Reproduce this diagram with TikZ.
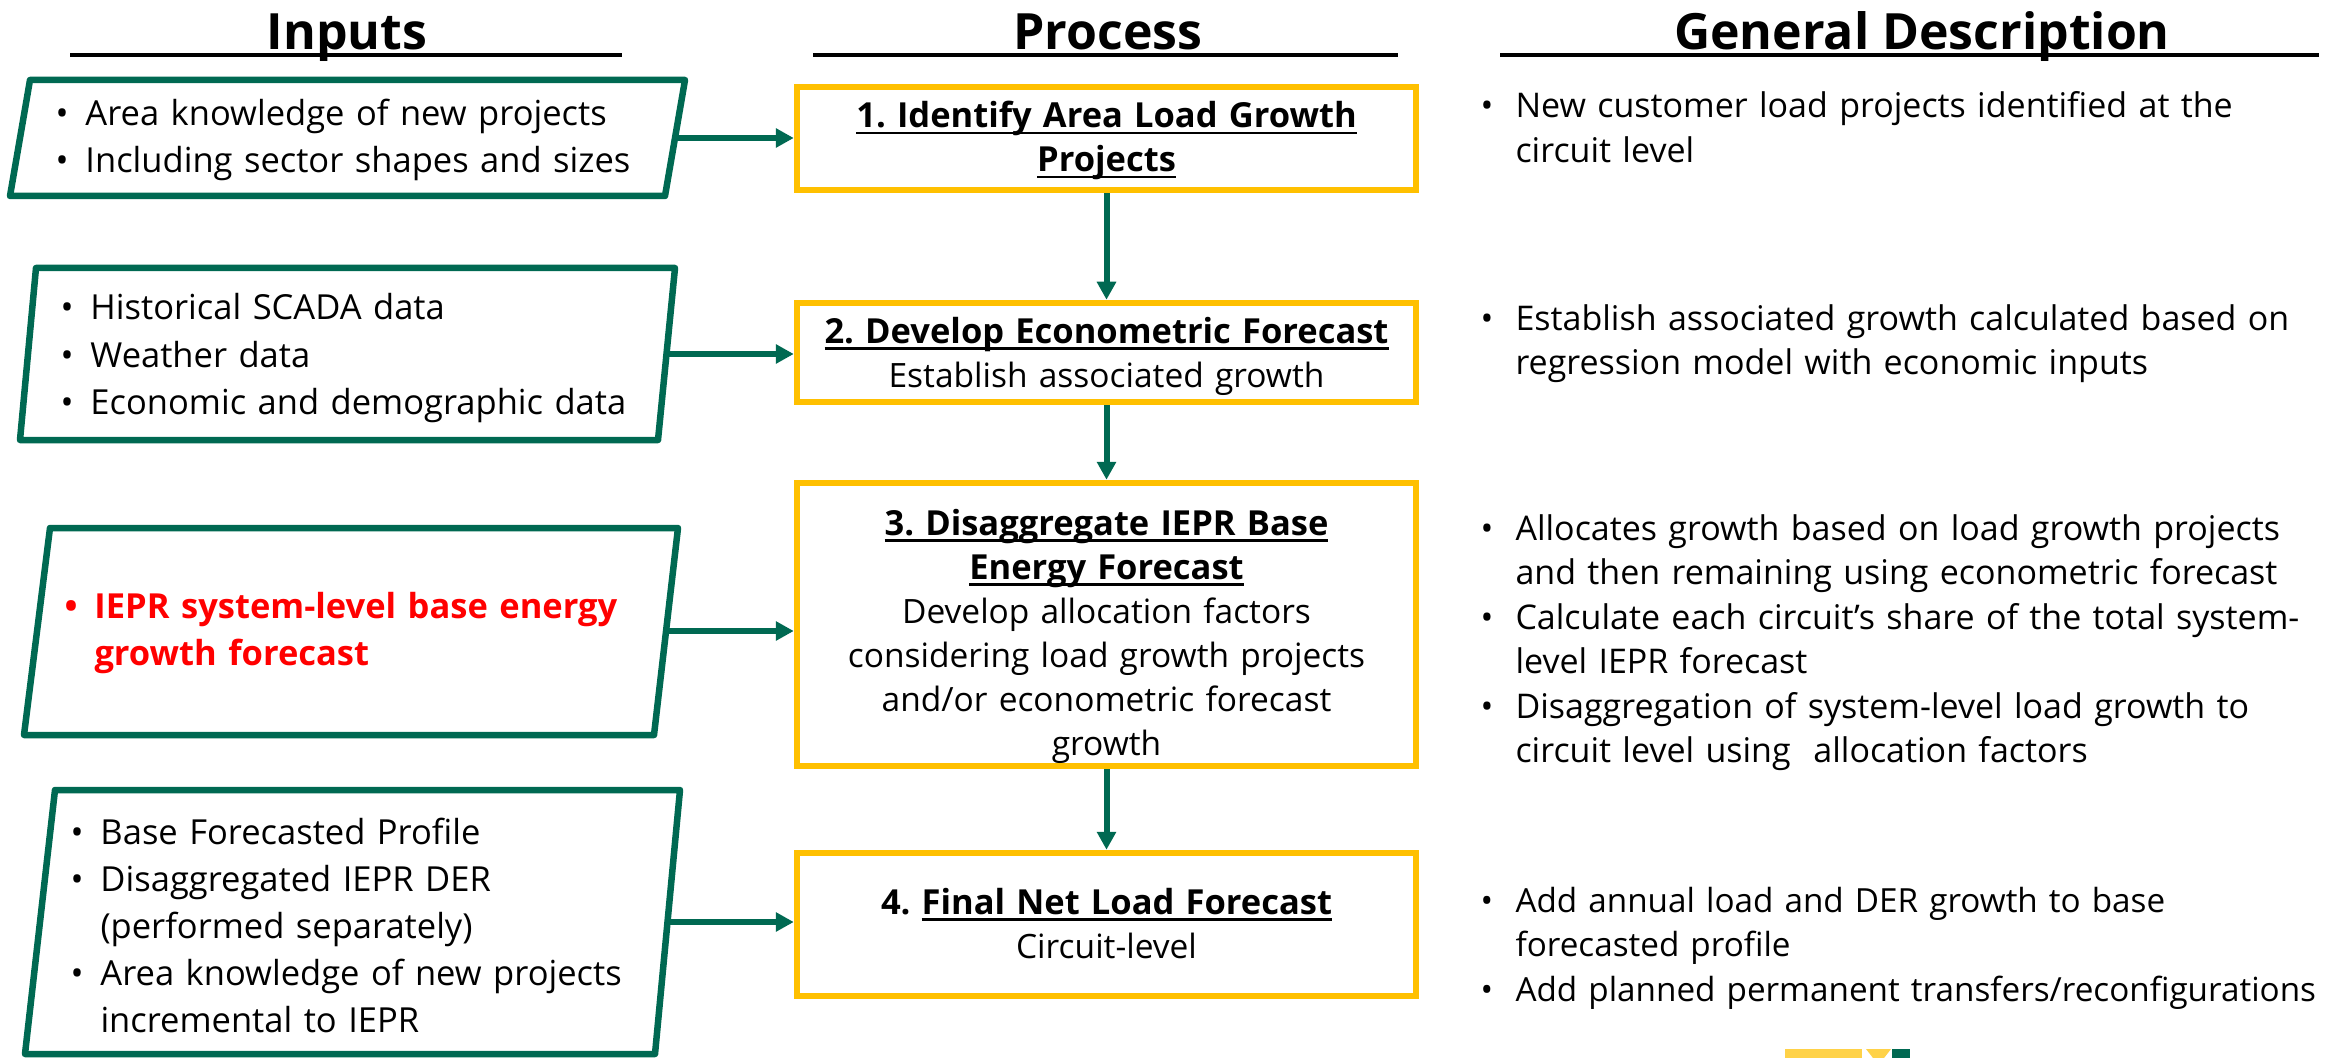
\documentclass[tikz,border=0pt]{standalone}
\usepackage{fontspec}
\setmainfont{Open Sans}
\usetikzlibrary{arrows.meta}
\definecolor{pgegreen}{RGB}{0,105,82}
\definecolor{procyellow}{RGB}{255,192,0}
\definecolor{logoyellow}{RGB}{255,210,72}
\definecolor{alertred}{RGB}{255,0,0}
\frenchspacing
% underline drawn as a rule under the boxed text
\newsavebox{\ulbox}
\newcommand{\uln}[1]{\leavevmode\sbox{\ulbox}{#1}\rlap{\rule[-2.6pt]{\wd\ulbox}{0.9pt}}\usebox{\ulbox}}
% step titles
\newcommand{\ptitle}[1]{{\fontsize{13.8}{17.6}\selectfont\bfseries #1}}
% bullet with hanging indent
\newcommand{\inbul}{\makebox[12pt][l]{•}}
\newcommand{\incont}{\hspace*{12pt}}
\newcommand{\dsbul}{\makebox[14pt][l]{•}}
\newcommand{\dscont}{\hspace*{14pt}}
\begin{document}
\begin{tikzpicture}[x=0.4pt,y=-0.4pt,
  inbox/.style={draw=pgegreen, line width=2.6pt, line join=round, fill=white},
  procbox/.style={draw=procyellow, line width=2.6pt, fill=white, minimum width=247.6pt,
    inner sep=0pt},
  proctext/.style={anchor=base, inner sep=0pt, text width=240pt, align=center,
    font=\fontsize{13.4}{17.6}\selectfont},
  flow/.style={draw=pgegreen, line width=2.4pt, -{Triangle[length=7.2pt,width=7.4pt]}},
  intext/.style={anchor=base west, inner sep=0pt, text width=250pt, align=left,
    font=\fontsize{13.8}{18.8}\selectfont},
  desctext/.style={anchor=base west, inner sep=0pt, text width=360pt, align=left,
    font=\fontsize{13.6}{17.8}\selectfont},
  header/.style={anchor=base, inner sep=0pt, font=\fontsize{20}{24}\bfseries\selectfont},
  headrule/.style={line width=1.6pt}]
\useasboundingbox (0,0) rectangle (2350,1058);
\fill[white] (0,0) rectangle (2350,1058);

% column headers
\node[header] (hin) at (347,50) {Inputs};
\node[header] (hproc) at (1108,50) {Process};
\node[header] (hdesc) at (1922,50) {General Description};
\draw[headrule] (70,55) -- (622,55);
\draw[headrule] (813,55) -- (1398,55);
\draw[headrule] (1500,55) -- (2319,55);

% input parallelograms
\draw[inbox] (30,80) -- (685,80) -- (665,196) -- (10,196) -- cycle;
\coordinate (in1) at (675,138);
\draw[inbox] (36,268) -- (675,268) -- (658,440) -- (20,440) -- cycle;
\coordinate (in2) at (666,354);
\draw[inbox] (50,528) -- (678,528) -- (654,735) -- (24,735) -- cycle;
\coordinate (in3) at (666,631);
\draw[inbox] (55,790) -- (680,790) -- (655,1054) -- (25,1054) -- cycle;
\coordinate (in4) at (667,922);

\node[intext] (in1t) at (55,126) {\inbul Area knowledge of new projects\\
  \inbul Including sector shapes and sizes};
\node[intext] (in2t) at (60,320) {\inbul Historical SCADA data\\
  \inbul Weather data\\
  \inbul Economic and demographic data};
\node[intext, text=alertred, font=\fontsize{13.8}{18.8}\bfseries\selectfont] (in3t) at (64,618)
  {\inbul IEPR system-level base energy\\ \incont growth forecast};
\node[intext] (in4t) at (70,844) {\inbul Base Forecasted Profile\\
  \inbul Disaggregated IEPR DER\\
  \incont (performed separately)\\
  \inbul Area knowledge of new projects\\
  \incont incremental to IEPR};

% process steps
\node[procbox, minimum height=41.2pt] (p1) at (1106.5,138.5) {};
\node[procbox, minimum height=39.6pt] (p2) at (1106.5,352.5) {};
\node[procbox, minimum height=113.2pt] (p3) at (1106.5,624.5) {};
\node[procbox, minimum height=57.2pt] (p4) at (1106.5,924.5) {};

\node[proctext] (p1t) at (1106.5,128)
  {\ptitle{\uln{1. Identify Area Load Growth}}\\ \ptitle{\uln{Projects}}};
\node[proctext] (p2t) at (1106.5,343)
  {\ptitle{\uln{2. Develop Econometric Forecast}}\\ Establish associated growth};
\node[proctext] (p3t) at (1106.5,535)
  {\ptitle{\uln{3. Disaggregate IEPR Base}}\\ \ptitle{\uln{Energy Forecast}}\\
   Develop allocation factors\\ considering load growth projects\\
   and/or econometric forecast\\ growth};
\node[proctext] (p4t) at (1106.5,914)
  {\ptitle{4. \uln{Final Net Load Forecast}}\\ Circuit-level};

% connectors
\draw[flow] (in1) -- (in1 -| p1.west);
\draw[flow] (in2) -- (in2 -| p2.west);
\draw[flow] (in3) -- (in3 -| p3.west);
\draw[flow] (in4) -- (in4 -| p4.west);
\draw[flow] (p1.south) -- (p2.north);
\draw[flow] (p2.south) -- (p3.north);
\draw[flow] (p3.south) -- (p4.north);

% general description
\node[desctext] (d1) at (1480,118) {\dsbul New customer load projects identified at the\\
  \dscont circuit level};
\node[desctext] (d2) at (1480,330) {\dsbul Establish associated growth calculated based on\\
  \dscont regression model with economic inputs};
\node[desctext] (d3) at (1480,540) {\dsbul Allocates growth based on load growth projects\\
  \dscont and then remaining using econometric forecast\\
  \dsbul Calculate each circuit’s share of the total system-\\
  \dscont level IEPR forecast\\
  \dsbul Disaggregation of system-level load growth to\\
  \dscont circuit level using\ \ allocation factors};
\node[desctext, font=\fontsize{13.3}{17.8}\selectfont] (d4) at (1480,912)
  {\dsbul Add annual load and DER growth to base\\
  \dscont forecasted profile\\
  \dsbul Add planned permanent transfers/reconfigurations};

% logo strip at the lower edge
\fill[logoyellow] (1785,1049) rectangle (1862,1058);
\fill[logoyellow] (1866,1049) -- (1891,1049) -- (1884,1058) -- (1873,1058) -- cycle;
\fill[pgegreen] (1892,1049) rectangle (1910,1058);
\end{tikzpicture}
\end{document}
